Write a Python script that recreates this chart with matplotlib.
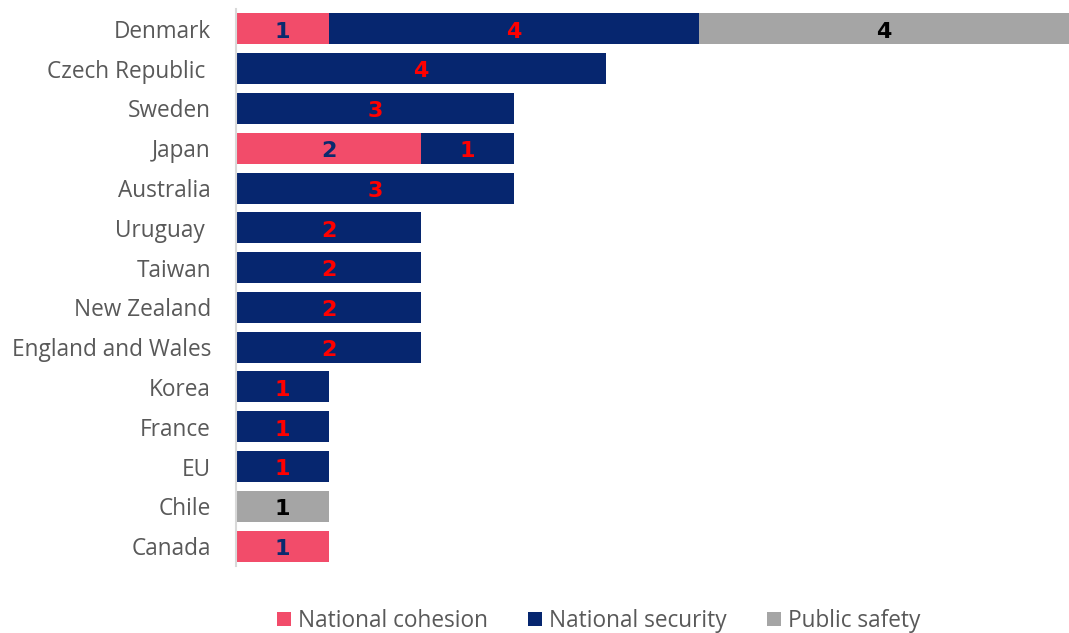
import matplotlib.pyplot as plt
import numpy as np

plt.rcParams['font.family'] = ['Open Sans', 'DejaVu Sans']

countries = ['Denmark', 'Czech Republic ', 'Sweden', 'Japan', 'Australia', 'Uruguay ',
             'Taiwan', 'New Zealand', 'England and Wales', 'Korea', 'France', 'EU',
             'Chile', 'Canada']
cohesion = [1, 0, 0, 2, 0, 0, 0, 0, 0, 0, 0, 0, 0, 1]
security = [4, 4, 3, 1, 3, 2, 2, 2, 2, 1, 1, 1, 0, 0]
safety = [4, 0, 0, 0, 0, 0, 0, 0, 0, 0, 0, 0, 1, 0]

series = [
    ('National cohesion', cohesion, '#F24C6A', '#0A2A6E'),
    ('National security', security, '#06266F', '#FF0000'),
    ('Public safety', safety, '#A5A5A5', '#000000'),
]

fig = plt.figure(figsize=(10.69, 6.33), dpi=100)
ax = fig.add_axes([236 / 1069, 1 - 566 / 633, 1 - 236 / 1069, (566 - 9) / 633])

y = np.arange(len(countries))
left = np.zeros(len(countries))
for name, vals, col, tcol in series:
    vals = np.array(vals, dtype=float)
    bars = ax.barh(y, vals, left=left, height=0.78, color=col, label=name)
    for b, v in zip(bars, vals):
        if v > 0:
            ax.text(b.get_x() + b.get_width() / 2, b.get_y() + b.get_height() / 2 + 0.07,
                    '%d' % v, ha='center', va='center', color=tcol,
                    fontsize=16, fontweight='bold', family='DejaVu Sans')
    left += vals

ax.set_ylim(len(countries) - 0.5, -0.5)
ax.set_xlim(0, 9)
ax.set_yticks(y)
ax.set_yticklabels(countries, fontsize=16.3, color='#595959')
ax.tick_params(axis='y', length=0, pad=18)
ax.set_xticks([])
for s in ['top', 'right', 'bottom']:
    ax.spines[s].set_visible(False)
ax.spines['left'].set_color('#D9D9D9')
ax.spines['left'].set_linewidth(1.5)

leg = fig.legend(loc='center', bbox_to_anchor=(0.56, 1 - 621 / 633), ncol=3, frameon=False,
                 fontsize=16.3, handlelength=0.6, handleheight=0.6, handletextpad=0.3,
                 columnspacing=1.8)
for t in leg.get_texts():
    t.set_color('#595959')

fig.savefig('out.png', dpi=100)
